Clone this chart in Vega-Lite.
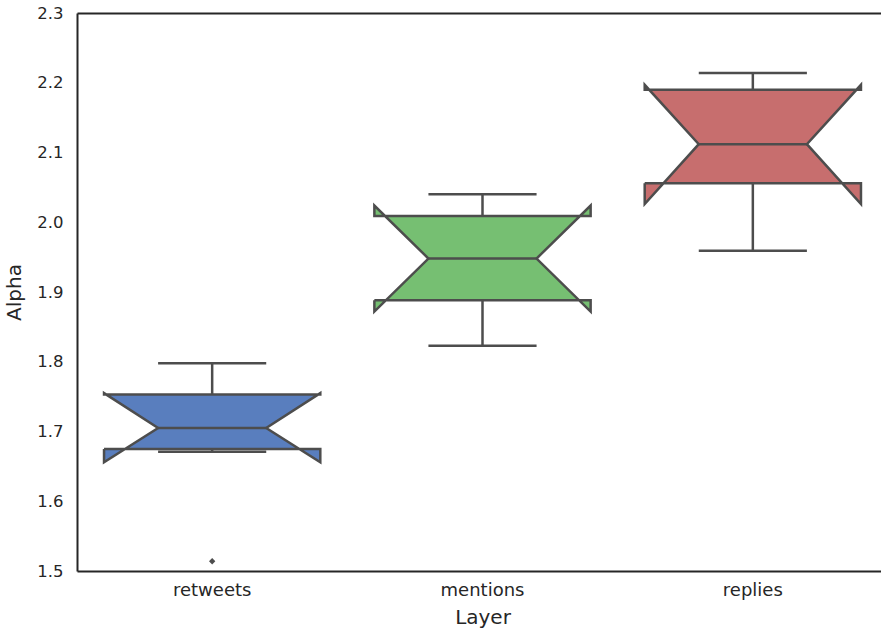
{
  "$schema": "https://vega.github.io/schema/vega-lite/v6.json",
  "autosize": {"type": "none"},
  "padding": {"left": 77, "top": 13, "right": -7, "bottom": 62},
  "width": 811,
  "height": 558,
  "background": "white",
  "config": {
    "view": {"stroke": null, "strokeWidth": 0},
    "font": "DejaVu Sans",
    "axis": {"grid": false, "ticks": false, "domainColor": "#262626", "domainWidth": 2, "labelColor": "#262626", "titleColor": "#262626", "labelFont": "DejaVu Sans", "titleFont": "DejaVu Sans", "labelFontSize": 16.5, "titleFontSize": 20, "titleFontWeight": "normal"}
  },
  "resolve": {"axis": {"x": "independent"}},
  "datasets": {
    "shapes": [
      {"layer": "retweets", "part": "box", "order": 1, "offset": -1, "y": 1.675},
      {"layer": "retweets", "part": "box", "order": 2, "offset": 1, "y": 1.675},
      {"layer": "retweets", "part": "box", "order": 3, "offset": 1, "y": 1.656},
      {"layer": "retweets", "part": "box", "order": 4, "offset": 0.5, "y": 1.705},
      {"layer": "retweets", "part": "box", "order": 5, "offset": 1, "y": 1.755},
      {"layer": "retweets", "part": "box", "order": 6, "offset": 1, "y": 1.753},
      {"layer": "retweets", "part": "box", "order": 7, "offset": -1, "y": 1.753},
      {"layer": "retweets", "part": "box", "order": 8, "offset": -1, "y": 1.755},
      {"layer": "retweets", "part": "box", "order": 9, "offset": -0.5, "y": 1.705},
      {"layer": "retweets", "part": "box", "order": 10, "offset": -1, "y": 1.656},
      {"layer": "retweets", "part": "box", "order": 11, "offset": -1, "y": 1.675},
      {"layer": "retweets", "part": "median", "order": 1, "offset": -0.5, "y": 1.705},
      {"layer": "retweets", "part": "median", "order": 2, "offset": 0.5, "y": 1.705},
      {"layer": "retweets", "part": "whisk_hi", "order": 1, "offset": 0, "y": 1.753},
      {"layer": "retweets", "part": "whisk_hi", "order": 2, "offset": 0, "y": 1.798},
      {"layer": "retweets", "part": "cap_hi", "order": 1, "offset": -0.5, "y": 1.798},
      {"layer": "retweets", "part": "cap_hi", "order": 2, "offset": 0.5, "y": 1.798},
      {"layer": "retweets", "part": "whisk_lo", "order": 1, "offset": 0, "y": 1.675},
      {"layer": "retweets", "part": "whisk_lo", "order": 2, "offset": 0, "y": 1.671},
      {"layer": "retweets", "part": "cap_lo", "order": 1, "offset": -0.5, "y": 1.671},
      {"layer": "retweets", "part": "cap_lo", "order": 2, "offset": 0.5, "y": 1.671},

      {"layer": "mentions", "part": "box", "order": 1, "offset": -1, "y": 1.888},
      {"layer": "mentions", "part": "box", "order": 2, "offset": 1, "y": 1.888},
      {"layer": "mentions", "part": "box", "order": 3, "offset": 1, "y": 1.872},
      {"layer": "mentions", "part": "box", "order": 4, "offset": 0.5, "y": 1.948},
      {"layer": "mentions", "part": "box", "order": 5, "offset": 1, "y": 2.024},
      {"layer": "mentions", "part": "box", "order": 6, "offset": 1, "y": 2.009},
      {"layer": "mentions", "part": "box", "order": 7, "offset": -1, "y": 2.009},
      {"layer": "mentions", "part": "box", "order": 8, "offset": -1, "y": 2.024},
      {"layer": "mentions", "part": "box", "order": 9, "offset": -0.5, "y": 1.948},
      {"layer": "mentions", "part": "box", "order": 10, "offset": -1, "y": 1.872},
      {"layer": "mentions", "part": "box", "order": 11, "offset": -1, "y": 1.888},
      {"layer": "mentions", "part": "median", "order": 1, "offset": -0.5, "y": 1.948},
      {"layer": "mentions", "part": "median", "order": 2, "offset": 0.5, "y": 1.948},
      {"layer": "mentions", "part": "whisk_hi", "order": 1, "offset": 0, "y": 2.009},
      {"layer": "mentions", "part": "whisk_hi", "order": 2, "offset": 0, "y": 2.040},
      {"layer": "mentions", "part": "cap_hi", "order": 1, "offset": -0.5, "y": 2.040},
      {"layer": "mentions", "part": "cap_hi", "order": 2, "offset": 0.5, "y": 2.040},
      {"layer": "mentions", "part": "whisk_lo", "order": 1, "offset": 0, "y": 1.888},
      {"layer": "mentions", "part": "whisk_lo", "order": 2, "offset": 0, "y": 1.823},
      {"layer": "mentions", "part": "cap_lo", "order": 1, "offset": -0.5, "y": 1.823},
      {"layer": "mentions", "part": "cap_lo", "order": 2, "offset": 0.5, "y": 1.823},

      {"layer": "replies", "part": "box", "order": 1, "offset": -1, "y": 2.056},
      {"layer": "replies", "part": "box", "order": 2, "offset": 1, "y": 2.056},
      {"layer": "replies", "part": "box", "order": 3, "offset": 1, "y": 2.026},
      {"layer": "replies", "part": "box", "order": 4, "offset": 0.5, "y": 2.112},
      {"layer": "replies", "part": "box", "order": 5, "offset": 1, "y": 2.197},
      {"layer": "replies", "part": "box", "order": 6, "offset": 1, "y": 2.190},
      {"layer": "replies", "part": "box", "order": 7, "offset": -1, "y": 2.190},
      {"layer": "replies", "part": "box", "order": 8, "offset": -1, "y": 2.197},
      {"layer": "replies", "part": "box", "order": 9, "offset": -0.5, "y": 2.112},
      {"layer": "replies", "part": "box", "order": 10, "offset": -1, "y": 2.026},
      {"layer": "replies", "part": "box", "order": 11, "offset": -1, "y": 2.056},
      {"layer": "replies", "part": "median", "order": 1, "offset": -0.5, "y": 2.112},
      {"layer": "replies", "part": "median", "order": 2, "offset": 0.5, "y": 2.112},
      {"layer": "replies", "part": "whisk_hi", "order": 1, "offset": 0, "y": 2.190},
      {"layer": "replies", "part": "whisk_hi", "order": 2, "offset": 0, "y": 2.214},
      {"layer": "replies", "part": "cap_hi", "order": 1, "offset": -0.5, "y": 2.214},
      {"layer": "replies", "part": "cap_hi", "order": 2, "offset": 0.5, "y": 2.214},
      {"layer": "replies", "part": "whisk_lo", "order": 1, "offset": 0, "y": 2.056},
      {"layer": "replies", "part": "whisk_lo", "order": 2, "offset": 0, "y": 1.959},
      {"layer": "replies", "part": "cap_lo", "order": 1, "offset": -0.5, "y": 1.959},
      {"layer": "replies", "part": "cap_lo", "order": 2, "offset": 0.5, "y": 1.959}
    ],
    "outliers": [
      {"layer": "retweets", "offset": 0, "y": 1.514}
    ]
  },
  "layer": [
    {
      "data": {"name": "shapes"},
      "transform": [{"filter": "datum.part === 'box'"}],
      "mark": {"type": "line", "stroke": "#4d4d4d", "strokeWidth": 2.5, "strokeJoin": "miter"},
      "encoding": {
        "x": {"field": "layer", "type": "nominal", "title": "Layer",
          "scale": {"domain": ["retweets", "mentions", "replies"], "type": "band", "paddingInner": 0, "paddingOuter": 0},
          "axis": {"labelAngle": 0, "labelPadding": 10, "titlePadding": 8, "labelFontSize": 18}},
        "xOffset": {"field": "offset", "type": "quantitative", "scale": {"domain": [-1.25, 1.25]}},
        "y": {"field": "y", "type": "quantitative", "title": "Alpha",
          "scale": {"domain": [1.5, 2.3], "nice": false, "zero": false},
          "axis": {"orient": "left", "values": [1.5, 1.6, 1.7, 1.8, 1.9, 2.0, 2.1, 2.2, 2.3], "format": ".1f", "labelPadding": 14, "titlePadding": 12}},
        "fill": {"field": "layer", "type": "nominal", "legend": null,
          "scale": {"domain": ["retweets", "mentions", "replies"], "range": ["#597ebe", "#76bf72", "#c76e6e"]}},
        "detail": {"field": "layer"},
        "order": {"field": "order", "type": "quantitative"}
      }
    },
    {
      "data": {"name": "shapes"},
      "transform": [{"filter": "datum.part !== 'box'"}],
      "mark": {"type": "line", "stroke": "#4d4d4d", "strokeWidth": 2.5},
      "encoding": {
        "x": {"field": "layer", "type": "nominal", "axis": null},
        "xOffset": {"field": "offset", "type": "quantitative"},
        "y": {"field": "y", "type": "quantitative", "title": "Alpha",
          "axis": {"orient": "left", "values": [1.5, 1.6, 1.7, 1.8, 1.9, 2.0, 2.1, 2.2, 2.3], "format": ".1f", "labelPadding": 14, "titlePadding": 12}},
        "detail": [{"field": "layer"}, {"field": "part"}],
        "order": {"field": "order", "type": "quantitative"}
      }
    },
    {
      "data": {"name": "outliers"},
      "mark": {"type": "point", "shape": "diamond", "filled": true, "color": "#4d4d4d", "size": 40, "opacity": 1},
      "encoding": {
        "x": {"field": "layer", "type": "nominal",
          "axis": {"orient": "top", "labels": false, "title": null, "domain": true, "ticks": false}},
        "xOffset": {"field": "offset", "type": "quantitative"},
        "y": {"field": "y", "type": "quantitative", "title": "Alpha",
          "axis": {"orient": "left", "values": [1.5, 1.6, 1.7, 1.8, 1.9, 2.0, 2.1, 2.2, 2.3], "format": ".1f", "labelPadding": 14, "titlePadding": 12}}
      }
    }
  ]
}
